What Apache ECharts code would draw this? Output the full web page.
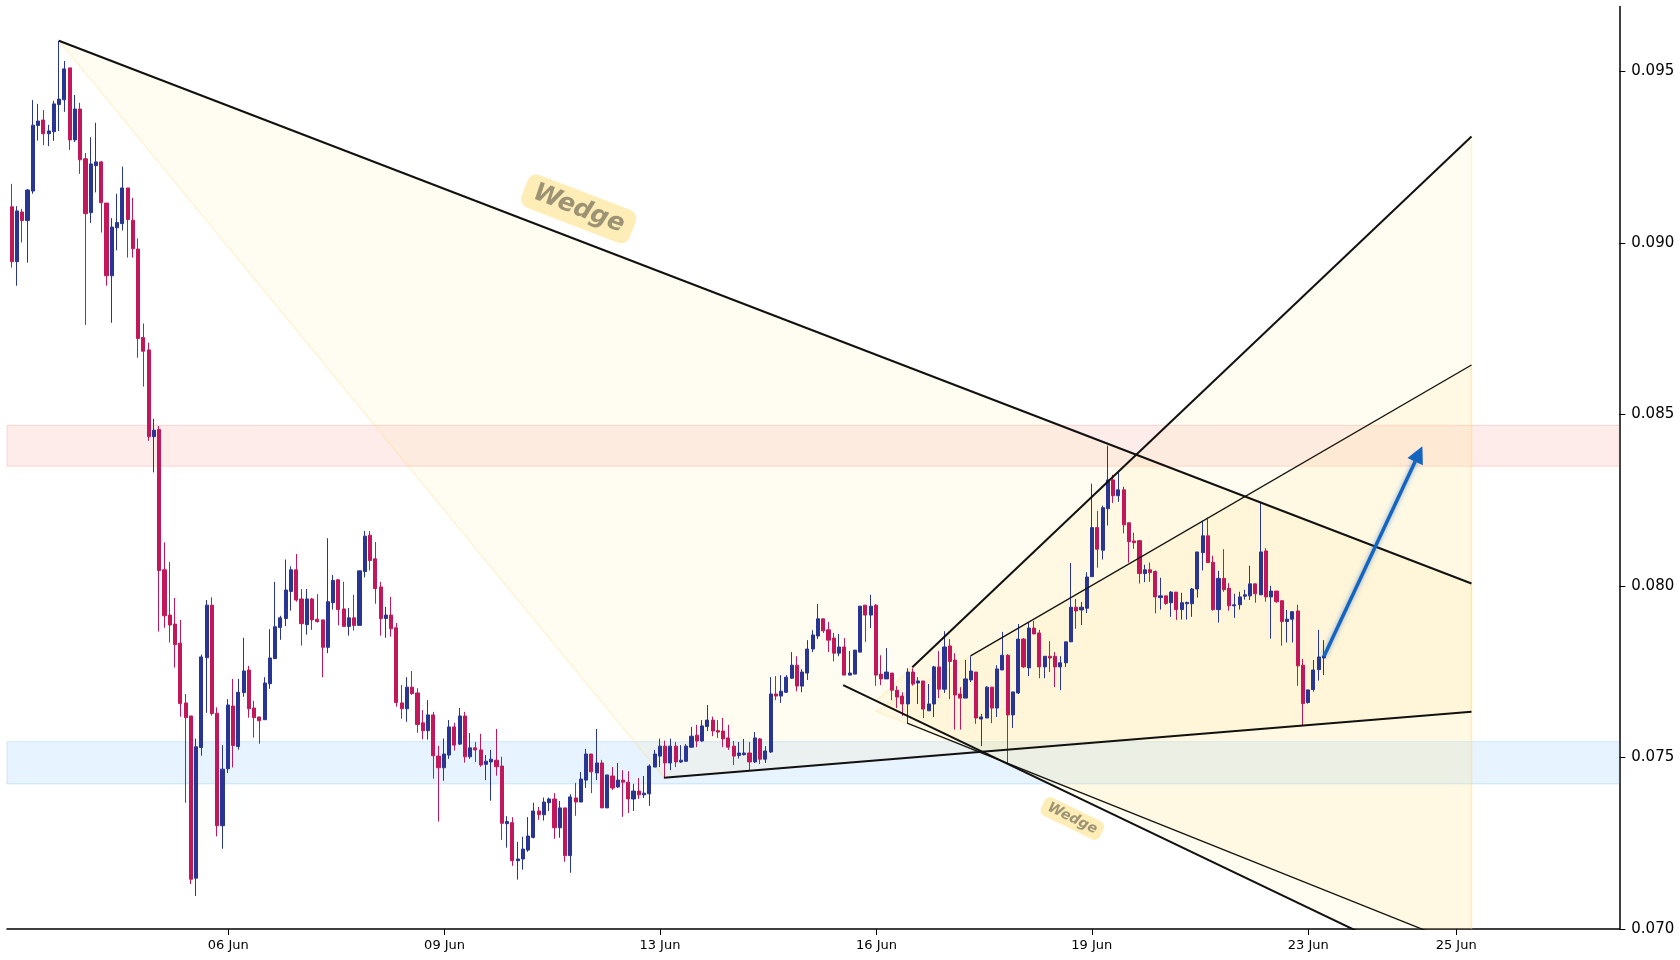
<!DOCTYPE html>
<html><head><meta charset="utf-8">
<script src="https://cdn.jsdelivr.net/npm/echarts@6/dist/echarts.min.js"></script>
<style>html,body{margin:0;padding:0;background:#fff}#c{width:1680px;height:960px}</style>
</head><body><div id="c"></div>
<script>
// ---- candle data (2h candles, index 0..249) ----
const opens=[0.09105,0.08945,0.09090,0.09065,0.09151,0.09342,0.09358,0.09318,0.09324,0.09403,
0.09417,0.09510,0.09300,0.09390,0.09245,0.09088,0.09225,0.09236,0.09116,0.08904,
0.09044,0.09056,0.09160,0.09066,0.08982,0.08724,0.08688,0.08435,0.08456,0.08047,
0.07915,0.07889,0.07833,0.07659,0.07621,0.07148,0.07529,0.07791,0.07944,0.07629,
0.07301,0.07467,0.07650,0.07532,0.07689,0.07755,0.07644,0.07618,0.07610,0.07715,
0.07788,0.07879,0.07905,0.07984,0.08047,0.07962,0.07887,0.07962,0.07903,0.07901,
0.07821,0.07951,0.08018,0.07933,0.07882,0.07907,0.07885,0.08042,0.08148,0.08079,
0.07997,0.07905,0.07915,0.07878,0.07659,0.07642,0.07705,0.07688,0.07601,0.07578,
0.07624,0.07504,0.07470,0.07507,0.07589,0.07539,0.07621,0.07502,0.07528,0.07522,
0.07480,0.07487,0.07492,0.07475,0.07307,0.07310,0.07199,0.07204,0.07230,0.07267,
0.07344,0.07333,0.07368,0.07379,0.07295,0.07353,0.07214,0.07382,0.07370,0.07434,
0.07510,0.07455,0.07484,0.07353,0.07446,0.07414,0.07434,0.07428,0.07379,0.07402,
0.07391,0.07394,0.07472,0.07504,0.07533,0.07484,0.07533,0.07487,0.07489,0.07530,
0.07565,0.07548,0.07590,0.07609,0.07578,0.07577,0.07557,0.07533,0.07506,0.07508,
0.07513,0.07487,0.07554,0.07495,0.07516,0.07685,0.07679,0.07690,0.07731,0.07769,
0.07708,0.07746,0.07816,0.07854,0.07904,0.07872,0.07848,0.07804,0.07822,0.07740,
0.07743,0.07807,0.07944,0.07915,0.07944,0.07743,0.07729,0.07746,0.07696,0.07679,
0.07656,0.07749,0.07717,0.07723,0.07636,0.07656,0.07764,0.07699,0.07825,0.07784,
0.07685,0.07673,0.07726,0.07749,0.07612,0.07615,0.07705,0.07644,0.07755,0.07798,
0.07624,0.07688,0.07845,0.07761,0.07877,0.07863,0.07764,0.07795,0.07795,0.07764,
0.07776,0.07837,0.07938,0.07930,0.07935,0.08027,0.08170,0.08104,0.08225,0.08309,
0.08263,0.08280,0.08184,0.08131,0.08132,0.08036,0.08047,0.08042,0.07966,0.07971,
0.07951,0.07982,0.07931,0.07948,0.07948,0.07991,0.08097,0.08146,0.08069,0.07931,
0.08022,0.07993,0.07942,0.07945,0.07970,0.07971,0.08006,0.07974,0.08102,0.07968,
0.07985,0.07957,0.07896,0.07903,0.07927,0.07769,0.07660,0.07698,0.07756,0.07790];
const closes=[0.08945,0.09093,0.09065,0.09154,0.09343,0.09355,0.09318,0.09326,0.09405,0.09419,
0.09507,0.09300,0.09390,0.09242,0.09085,0.09230,0.09236,0.09117,0.08904,0.09046,
0.09059,0.09160,0.09068,0.08983,0.08721,0.08684,0.08435,0.08454,0.08045,0.07913,
0.07886,0.07829,0.07657,0.07616,0.07145,0.07531,0.07793,0.07944,0.07628,0.07301,
0.07466,0.07653,0.07535,0.07690,0.07752,0.07642,0.07616,0.07607,0.07717,0.07790,
0.07881,0.07907,0.07988,0.08047,0.07959,0.07890,0.07962,0.07901,0.07896,0.07821,
0.07954,0.08016,0.07931,0.07882,0.07907,0.07885,0.08044,0.08145,0.08074,0.07992,
0.07905,0.07915,0.07875,0.07660,0.07642,0.07705,0.07686,0.07596,0.07578,0.07624,
0.07505,0.07470,0.07510,0.07589,0.07536,0.07621,0.07502,0.07528,0.07522,0.07478,
0.07489,0.07495,0.07473,0.07308,0.07313,0.07199,0.07204,0.07233,0.07271,0.07344,
0.07333,0.07370,0.07379,0.07295,0.07353,0.07214,0.07385,0.07370,0.07437,0.07510,
0.07458,0.07484,0.07353,0.07449,0.07411,0.07434,0.07428,0.07379,0.07402,0.07391,
0.07396,0.07475,0.07510,0.07533,0.07484,0.07533,0.07487,0.07492,0.07533,0.07562,
0.07548,0.07592,0.07609,0.07577,0.07574,0.07554,0.07530,0.07504,0.07513,0.07513,
0.07487,0.07557,0.07495,0.07519,0.07685,0.07679,0.07693,0.07734,0.07769,0.07708,
0.07749,0.07816,0.07857,0.07904,0.07869,0.07842,0.07804,0.07822,0.07740,0.07746,
0.07813,0.07941,0.07915,0.07941,0.07740,0.07729,0.07749,0.07696,0.07676,0.07656,
0.07749,0.07714,0.07723,0.07641,0.07656,0.07764,0.07699,0.07822,0.07780,0.07682,
0.07673,0.07729,0.07752,0.07615,0.07618,0.07705,0.07644,0.07758,0.07798,0.07624,
0.07691,0.07845,0.07764,0.07877,0.07860,0.07764,0.07795,0.07790,0.07764,0.07776,
0.07837,0.07938,0.07927,0.07938,0.08026,0.08170,0.08107,0.08228,0.08309,0.08263,
0.08280,0.08178,0.08129,0.08126,0.08036,0.08047,0.08039,0.07968,0.07971,0.07949,
0.07982,0.07931,0.07951,0.07952,0.07991,0.08099,0.08146,0.08068,0.07931,0.08022,
0.07989,0.07942,0.07945,0.07968,0.07974,0.08006,0.07977,0.08099,0.07968,0.07985,
0.07954,0.07896,0.07903,0.07925,0.07767,0.07657,0.07697,0.07755,0.07793,0.07796];
const highs=[0.09172,0.09107,0.09099,0.09157,0.09416,0.09405,0.09387,0.09344,0.09414,0.09589,
0.09530,0.09510,0.09431,0.09408,0.09262,0.09308,0.09350,0.09239,0.09116,0.09072,
0.09143,0.09222,0.09160,0.09131,0.09013,0.08765,0.08709,0.08487,0.08466,0.08127,
0.08070,0.07965,0.07901,0.07685,0.07621,0.07555,0.07800,0.07959,0.07967,0.07646,
0.07536,0.07670,0.07729,0.07729,0.07849,0.07767,0.07665,0.07619,0.07734,0.07874,
0.08012,0.07913,0.08077,0.08057,0.08093,0.07991,0.07991,0.07965,0.07976,0.07901,
0.08139,0.08032,0.08018,0.08012,0.07936,0.07974,0.08044,0.08160,0.08160,0.08128,
0.08012,0.07939,0.07968,0.07892,0.07711,0.07734,0.07752,0.07702,0.07638,0.07667,
0.07633,0.07534,0.07555,0.07609,0.07601,0.07644,0.07633,0.07571,0.07545,0.07569,
0.07507,0.07522,0.07583,0.07502,0.07329,0.07326,0.07254,0.07269,0.07326,0.07368,
0.07356,0.07383,0.07383,0.07396,0.07373,0.07353,0.07393,0.07426,0.07458,0.07525,
0.07510,0.07583,0.07493,0.07449,0.07472,0.07484,0.07463,0.07460,0.07423,0.07440,
0.07446,0.07480,0.07522,0.07555,0.07549,0.07555,0.07545,0.07536,0.07539,0.07589,
0.07595,0.07609,0.07653,0.07619,0.07609,0.07615,0.07595,0.07548,0.07545,0.07554,
0.07545,0.07574,0.07557,0.07533,0.07734,0.07737,0.07740,0.07740,0.07807,0.07795,
0.07757,0.07842,0.07871,0.07947,0.07904,0.07895,0.07863,0.07860,0.07848,0.07810,
0.07813,0.07941,0.07944,0.07974,0.07947,0.07798,0.07819,0.07746,0.07708,0.07690,
0.07760,0.07760,0.07734,0.07723,0.07714,0.07767,0.07810,0.07868,0.07845,0.07804,
0.07705,0.07784,0.07795,0.07749,0.07627,0.07708,0.07705,0.07769,0.07866,0.07801,
0.07691,0.07889,0.07848,0.07892,0.07898,0.07872,0.07795,0.07839,0.07807,0.07795,
0.07837,0.08067,0.07962,0.07953,0.08040,0.08298,0.08219,0.08234,0.08409,0.08324,
0.08336,0.08289,0.08184,0.08155,0.08132,0.08062,0.08068,0.08045,0.08024,0.07971,
0.07985,0.07982,0.07980,0.07954,0.07994,0.08099,0.08190,0.08199,0.08088,0.08044,
0.08107,0.08008,0.07977,0.07983,0.07989,0.08059,0.08007,0.08245,0.08110,0.08000,
0.07985,0.07957,0.07930,0.07925,0.07945,0.07787,0.07697,0.07784,0.07872,0.07842];
const lows=[0.08928,0.08875,0.09001,0.08942,0.09143,0.09298,0.09285,0.09282,0.09297,0.09326,
0.09382,0.09271,0.09294,0.09201,0.08761,0.09058,0.09147,0.09030,0.08875,0.08767,
0.08978,0.09036,0.08957,0.08957,0.08665,0.08581,0.08423,0.08331,0.07867,0.07878,
0.07835,0.07762,0.07619,0.07368,0.07131,0.07096,0.07505,0.07630,0.07622,0.07270,
0.07234,0.07455,0.07471,0.07523,0.07677,0.07616,0.07558,0.07540,0.07610,0.07700,
0.07788,0.07843,0.07883,0.07928,0.07954,0.07826,0.07858,0.07872,0.07893,0.07734,
0.07804,0.07931,0.07885,0.07882,0.07855,0.07870,0.07885,0.08025,0.08045,0.07948,
0.07855,0.07849,0.07852,0.07648,0.07613,0.07604,0.07683,0.07572,0.07553,0.07552,
0.07438,0.07313,0.07432,0.07496,0.07520,0.07536,0.07485,0.07496,0.07487,0.07473,
0.07434,0.07374,0.07447,0.07260,0.07237,0.07184,0.07144,0.07173,0.07225,0.07264,
0.07318,0.07316,0.07344,0.07263,0.07266,0.07196,0.07164,0.07330,0.07370,0.07411,
0.07396,0.07434,0.07353,0.07353,0.07405,0.07411,0.07327,0.07338,0.07344,0.07379,
0.07382,0.07359,0.07472,0.07472,0.07443,0.07463,0.07472,0.07484,0.07487,0.07528,
0.07530,0.07545,0.07577,0.07562,0.07557,0.07530,0.07522,0.07478,0.07497,0.07506,
0.07463,0.07484,0.07481,0.07484,0.07513,0.07667,0.07659,0.07688,0.07729,0.07693,
0.07690,0.07726,0.07807,0.07845,0.07863,0.07807,0.07780,0.07795,0.07740,0.07740,
0.07743,0.07807,0.07837,0.07877,0.07709,0.07711,0.07729,0.07667,0.07644,0.07621,
0.07600,0.07709,0.07656,0.07615,0.07636,0.07618,0.07673,0.07688,0.07670,0.07581,
0.07581,0.07673,0.07720,0.07598,0.07533,0.07615,0.07600,0.07618,0.07755,0.07484,
0.07586,0.07685,0.07761,0.07737,0.07860,0.07731,0.07731,0.07749,0.07705,0.07696,
0.07764,0.07837,0.07875,0.07886,0.07921,0.08027,0.08053,0.08077,0.08176,0.08242,
0.08245,0.08153,0.08068,0.08108,0.08007,0.08011,0.08012,0.07920,0.07931,0.07945,
0.07910,0.07901,0.07902,0.07902,0.07910,0.07966,0.08045,0.08068,0.07928,0.07893,
0.07983,0.07928,0.07907,0.07931,0.07960,0.07959,0.07951,0.07974,0.07954,0.07846,
0.07951,0.07826,0.07835,0.07835,0.07709,0.07593,0.07657,0.07692,0.07724,0.07740];

// ---- axis ticks ----
const tickPos=[41.09,82.15,123.0,164.1,204.96,246.04,274.1];
const tickLabels=['06 Jun','09 Jun','13 Jun','16 Jun','19 Jun','23 Jun','25 Jun'];
const yTicks=[0.070,0.075,0.080,0.085,0.090,0.095];

// ---- zones ----
const resistanceZone=[0.08349,0.08468];
const supportZone=[0.07423,0.07546];

// ---- pattern lines [candle index, price] ----
const bigWedgeUpper=[[8.96,0.09589],[277,0.08007]];
const bigWedgeLower=[[123.76,0.07441],[277,0.07633]];
const wedgeAscThick=[[170.9,0.07763],[277,0.09310]];
const wedgeDescThick=[[157.78,0.07711],[277,0.06834]];
const wedgeAscThin=[[181.95,0.07796],[277,0.08644]];
const wedgeDescThin=[[169.92,0.07600],[277,0.06942]];
const bigWedgeFill=[[8.96,0.09589],[277,0.08007],[277,0.07633],[123.76,0.07441]];
const wedgeFillThick=[[164.12,0.07665],[277,0.09310],[277,0.06834]];
const wedgeFillThin=[[164.02,0.07635],[277,0.08644],[277,0.06942]];
const arrowPath=[[249.0,0.07794],[267.0,0.08385]];
const labelTexts=['Wedge','Wedge'];
const labelPoints=[[107.6,0.09099],[201.27,0.07322]];

const FONT='DejaVu Sans';
const fills=[bigWedgeFill,wedgeFillThick,wedgeFillThin];
const chart=echarts.init(document.getElementById('c'),null,{renderer:'canvas'});
const candleData=opens.map((o,i)=>[i,o,closes[i],lows[i],highs[i]]);

chart.setOption({
  animation:false,
  backgroundColor:'#ffffff',
  grid:{left:7,right:60.7,top:6.5,bottom:31,containLabel:false},
  xAxis:{type:'value',min:-0.886,max:305.05,
    axisLine:{show:true,onZero:false,lineStyle:{color:'#000',width:1.5}},
    axisTick:{show:true,customValues:tickPos,length:6,lineStyle:{color:'#000',width:1}},
    axisLabel:{show:true,customValues:tickPos,margin:10,fontSize:13,color:'#000',fontFamily:FONT,
      formatter:(v)=>{let b=0,d=1e9;tickPos.forEach((t,k)=>{if(Math.abs(t-v)<d){d=Math.abs(t-v);b=k;}});return tickLabels[b];}},
    splitLine:{show:false}},
  yAxis:{type:'value',position:'right',min:0.07,max:0.096889,
    axisLine:{show:true,onZero:false,lineStyle:{color:'#000',width:1.5}},
    axisTick:{show:true,customValues:yTicks,length:6,lineStyle:{color:'#000',width:1}},
    axisLabel:{show:true,customValues:yTicks,margin:12,fontSize:15,color:'#000',fontFamily:FONT,
      formatter:(v)=>v.toFixed(3)},
    splitLine:{show:false}},
  series:[
    {type:'custom',coordinateSystem:'cartesian2d',clip:true,z:1,silent:true,
      data:fills.map(f=>f[0]),
      renderItem:(params,api)=>{
        const poly=fills[params.dataIndex];
        return {type:'polygon',shape:{points:poly.map(p=>api.coord(p))},
          style:{fill:'rgba(255,228,140,0.12)',stroke:'rgba(255,218,120,0.26)',lineWidth:1.5}};
      },
      markArea:{silent:true,data:[
        [{yAxis:resistanceZone[1],itemStyle:{color:'rgba(244,67,54,0.10)',borderColor:'rgba(244,67,54,0.18)',borderWidth:1}},{yAxis:resistanceZone[0]}],
        [{yAxis:supportZone[1],itemStyle:{color:'rgba(33,150,243,0.11)',borderColor:'rgba(33,150,243,0.18)',borderWidth:1}},{yAxis:supportZone[0]}]
      ]}
    },
    {type:'candlestick',z:2,silent:true,
      dimensions:['x','open','close','lowest','highest'],
      encode:{x:'x',y:['open','close','lowest','highest']},
      data:candleData,barWidth:3.6,
      itemStyle:{color:'#283593',color0:'#c2185b',borderColor:'#283593',borderColor0:'#c2185b',borderWidth:1}},
    {type:'lines',coordinateSystem:'cartesian2d',z:3,silent:true,clip:true,polyline:false,
      lineStyle:{color:'#111',width:2,opacity:1},
      data:[
        {coords:bigWedgeUpper,lineStyle:{width:2}},
        {coords:bigWedgeLower,lineStyle:{width:2}},
        {coords:wedgeAscThick,lineStyle:{width:2}},
        {coords:wedgeDescThick,lineStyle:{width:2}},
        {coords:wedgeAscThin,lineStyle:{width:1.3}},
        {coords:wedgeDescThin,lineStyle:{width:1.3}}
      ]},
    {type:'lines',coordinateSystem:'cartesian2d',z:4,silent:true,clip:true,
      symbol:['none','triangle'],symbolSize:[15,17],
      lineStyle:{color:'#1565c0',width:3.5,opacity:1,shadowBlur:5,shadowColor:'rgba(21,101,192,0.55)'},
      itemStyle:{color:'#1565c0'},
      data:[{coords:arrowPath}]},
    {type:'scatter',z:5,silent:true,symbol:'circle',symbolSize:1,itemStyle:{color:'rgba(0,0,0,0)'},
      data:[
        {value:labelPoints[0],label:{show:true,position:'inside',formatter:labelTexts[0],rotate:-21,
          fontSize:25,fontWeight:'bold',fontStyle:'italic',fontFamily:FONT,color:'rgba(70,70,60,0.68)',
          backgroundColor:'rgba(255,224,130,0.72)',borderRadius:9,padding:[5,10]}},
        {value:labelPoints[1],label:{show:true,position:'inside',formatter:labelTexts[1],rotate:-26,
          fontSize:14,fontWeight:'bold',fontStyle:'italic',fontFamily:FONT,color:'rgba(70,70,60,0.68)',
          backgroundColor:'rgba(255,224,130,0.72)',borderRadius:6,padding:[3,6]}}
      ]}
  ]
});
</script></body></html>
